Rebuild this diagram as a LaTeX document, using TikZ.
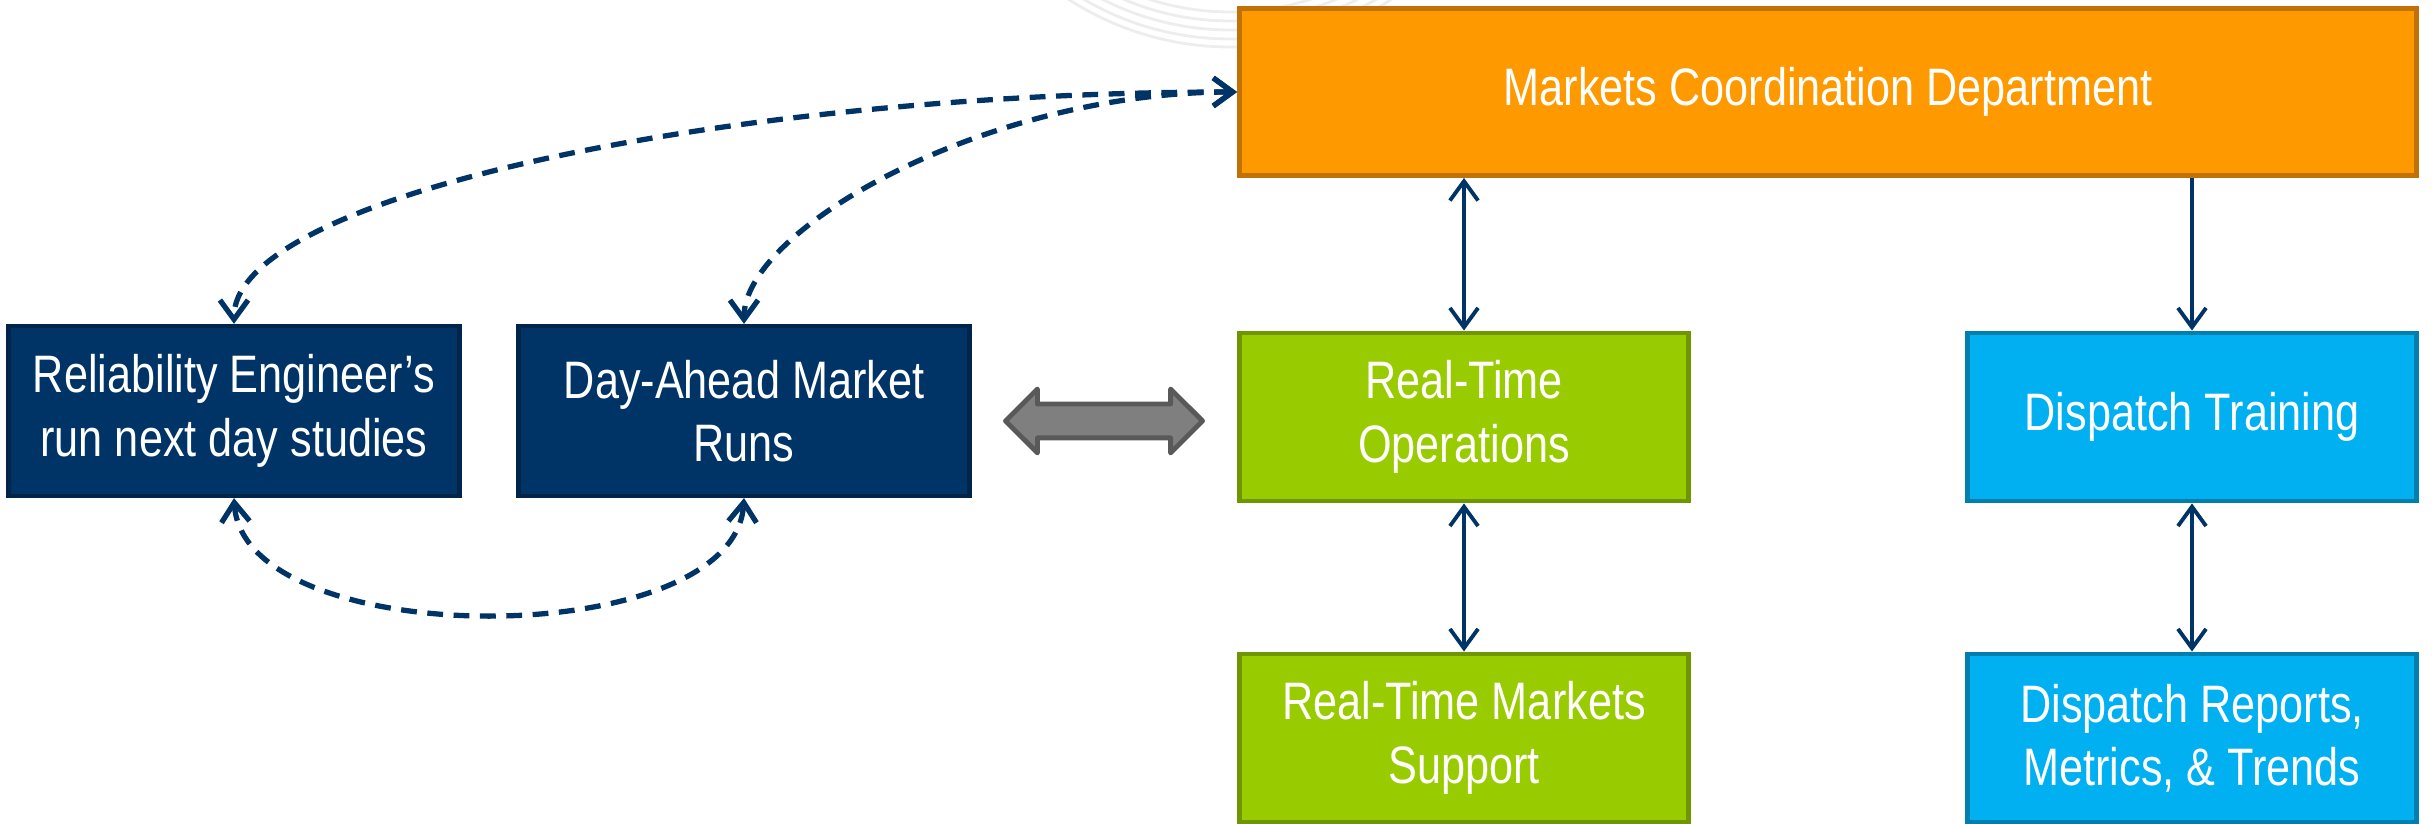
\documentclass[tikz,border=0pt]{standalone}
\usepackage{fontspec}
\setmainfont{Liberation Sans}[FakeStretch=0.82]
\usetikzlibrary{arrows.meta,shapes.arrows}

\definecolor{mcdfill}{HTML}{FF9900}
\definecolor{mcdline}{HTML}{C07206}
\definecolor{rtfill}{HTML}{99CC00}
\definecolor{rtline}{HTML}{6F9500}
\definecolor{dpfill}{HTML}{00B0F0}
\definecolor{dpline}{HTML}{007FAE}
\definecolor{dafill}{HTML}{003366}
\definecolor{daline}{HTML}{00244A}
\definecolor{linknavy}{HTML}{003366}
\definecolor{linkgray}{HTML}{7F7F7F}
\definecolor{linkedge}{HTML}{595959}

\tikzset{
  unit/.style={rectangle, line width=1.4pt, text=white, align=center,
    font=\fontsize{15pt}{18pt}\selectfont, inner sep=0pt,
    minimum width=4.49cm, minimum height=1.68cm},
  mcdbox/.style={unit, fill=mcdfill, draw=mcdline},
  rtbox/.style={unit, fill=rtfill, draw=rtline},
  dpbox/.style={unit, fill=dpfill, draw=dpline},
  dabox/.style={unit, fill=dafill, draw=daline, line width=1.2pt},
  solidlink/.style={draw=linknavy, line width=1.1pt,
    {Straight Barb[length=5.5pt,width=8pt]}-{Straight Barb[length=5.5pt,width=8pt]}},
  dashlink/.style={draw=linknavy, line width=1.5pt, dash pattern=on 4.5pt off 3pt,
    {Straight Barb[length=5.5pt,width=8pt]}-{Straight Barb[length=5.5pt,width=8pt]}},
  dblarrow/.style={double arrow, fill=linkgray, draw=linkedge, line width=1.4pt,
    line join=round, minimum height=1.97cm, inner xsep=0pt, inner ysep=0.145cm,
    double arrow head extend=0.15cm, double arrow tip angle=90}
}

\begin{document}
\begin{tikzpicture}

      \useasboundingbox (0,0) rectangle (24.32,-8.24);

      % faint rings in the background
      \foreach \r in {2.62,2.71,2.8,2.89,2.97}
        \draw[black!7, line width=0.8pt] (12.3,2.5) ++(230:\r) arc (230:310:\r);

      % Define the positions of the nodes
      \node[mcdbox, minimum width=11.77cm, minimum height=1.67cm] (mcd) at (18.28,-0.92) {Markets Coordination Department};

      \node[rtbox] (rto) at (14.64,-4.17) {Real-Time\\Operations};
      \node[dpbox] (dtr) at (21.92,-4.17) {Dispatch Training};

      \node[rtbox] (rtm) at (14.64,-7.38) {Real-Time Markets\\Support};
      \node[dpbox] (drm) at (21.92,-7.38) {Dispatch Reports,\\Metrics, \& Trends};

      \node[dabox, minimum width=4.51cm, minimum height=1.70cm] (rel) at (2.34,-4.11) {Reliability Engineer’s\\run next day studies};
      \node[dabox, minimum width=4.51cm, minimum height=1.70cm] (dam) at (7.44,-4.11) {Day-Ahead Market\\Runs};

      \node[dblarrow] (link) at (11.04,-4.21) {};

      % Draw the edges
      \draw[solidlink] (mcd.south -| rto.north) -- (rto.north);
      \draw[solidlink, {Straight Barb[length=5.5pt,width=8pt]}-] (dtr.north) -- (mcd.south -| dtr.north);
      \draw[solidlink] (rto.south) -- (rtm.north);
      \draw[solidlink] (dtr.south) -- (drm.north);

      \draw[dashlink] (mcd.west) .. controls +(-5,0) and +(0,1.3) .. (rel.north);
      \draw[dashlink] (mcd.west) .. controls +(-2.5,0) and +(0,0.95) .. (dam.north);
      \draw[dashlink] (rel.south) .. controls +(0.1,-1.55) and +(-0.1,-1.55) .. (dam.south);
  \end{tikzpicture}
\end{document}
